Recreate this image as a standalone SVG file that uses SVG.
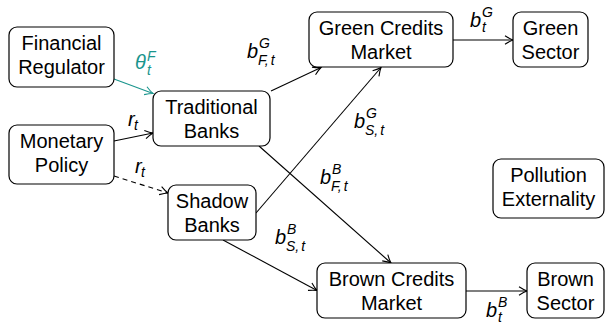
<svg xmlns="http://www.w3.org/2000/svg" width="606" height="323" viewBox="0 0 606 323">
<style>
.box{fill:#fff;stroke:#000;stroke-width:1.2}
.t{font-family:"Liberation Sans",Arial,sans-serif;font-size:20px;text-anchor:middle;fill:#000}
.m{font-family:"Liberation Sans",Arial,sans-serif;font-style:italic;font-size:20px;fill:#000}
.s{font-size:14px}
.e{fill:none;stroke:#000;stroke-width:1.1}
.teal{stroke:#1a958d}
</style>
<defs>
<marker id="ah" viewBox="-9 -5 10 10" refX="0" refY="0" markerWidth="10" markerHeight="10" markerUnits="userSpaceOnUse" orient="auto" overflow="visible">
<path d="M-8,-4.2 Q-3,-1 0,0 Q-3,1 -8,4.2" fill="none" stroke="#000" stroke-width="1.1"/>
</marker>
<marker id="aht" viewBox="-9 -5 10 10" refX="0" refY="0" markerWidth="10" markerHeight="10" markerUnits="userSpaceOnUse" orient="auto" overflow="visible">
<path d="M-8,-4.2 Q-3,-1 0,0 Q-3,1 -8,4.2" fill="none" stroke="#1a958d" stroke-width="1.1"/>
</marker>
</defs>

<g id="connectors">
<line class="e teal" x1="114" y1="79" x2="153" y2="93.5" marker-end="url(#aht)"/>
<line class="e" x1="114" y1="141" x2="153" y2="133" marker-end="url(#ah)"/>
<line class="e" x1="114" y1="176" x2="168" y2="193" stroke-dasharray="5 4" marker-end="url(#ah)"/>
<line class="e" x1="271" y1="91" x2="321" y2="67.5" marker-end="url(#ah)"/>
<line class="e" x1="256" y1="213" x2="381" y2="67.5" marker-end="url(#ah)"/>
<line class="e" x1="259" y1="146" x2="391" y2="263" marker-end="url(#ah)"/>
<line class="e" x1="223" y1="240" x2="317" y2="290.5" marker-end="url(#ah)"/>
<line class="e" x1="453" y1="40" x2="513" y2="40" marker-end="url(#ah)"/>
<line class="e" x1="466" y1="291" x2="527" y2="291" marker-end="url(#ah)"/>

<text class="m" style="fill:#1a958d"><tspan x="135" y="69">θ</tspan><tspan class="s" x="147" y="61">F</tspan><tspan class="s" x="147" y="75">t</tspan></text>
<text class="m"><tspan x="128" y="126">r</tspan><tspan class="s" x="134" y="130">t</tspan></text>
<text class="m"><tspan x="135" y="173">r</tspan><tspan class="s" x="141" y="177">t</tspan></text>
<text class="m"><tspan x="247" y="58">b</tspan><tspan class="s" x="259" y="48">G</tspan><tspan class="s" x="258" y="65">F,</tspan><tspan class="s" dx="2">t</tspan></text>
<text class="m"><tspan x="354" y="128">b</tspan><tspan class="s" x="366" y="118">G</tspan><tspan class="s" x="365" y="135">S,</tspan><tspan class="s" dx="2">t</tspan></text>
<text class="m"><tspan x="320" y="184">b</tspan><tspan class="s" x="332" y="174">B</tspan><tspan class="s" x="331" y="191">F,</tspan><tspan class="s" dx="2">t</tspan></text>
<text class="m"><tspan x="275" y="244">b</tspan><tspan class="s" x="287" y="234">B</tspan><tspan class="s" x="286" y="251">S,</tspan><tspan class="s" dx="2">t</tspan></text>
<text class="m"><tspan x="470" y="27">b</tspan><tspan class="s" x="482" y="17">G</tspan><tspan class="s" x="482" y="32">t</tspan></text>
<text class="m"><tspan x="486" y="317">b</tspan><tspan class="s" x="498" y="307">B</tspan><tspan class="s" x="498" y="322">t</tspan></text>
</g>

<g id="financial-regulator">
<rect class="box" x="9" y="27" width="105" height="60" rx="8"/>
<text class="t"><tspan x="61.5" y="50">Financial</tspan><tspan x="61.5" y="74">Regulator</tspan></text>
</g>
<g id="monetary-policy">
<rect class="box" x="9" y="125" width="105" height="59" rx="8"/>
<text class="t"><tspan x="61.5" y="148">Monetary</tspan><tspan x="61.5" y="172">Policy</tspan></text>
</g>
<g id="traditional-banks">
<rect class="box" x="153" y="91" width="117" height="55" rx="8"/>
<text class="t"><tspan x="211.5" y="113.5">Traditional</tspan><tspan x="211.5" y="137.5">Banks</tspan></text>
</g>
<g id="shadow-banks">
<rect class="box" x="168" y="185" width="88" height="55" rx="8"/>
<text class="t"><tspan x="212" y="207.5">Shadow</tspan><tspan x="212" y="231.5">Banks</tspan></text>
</g>
<g id="green-credits-market">
<rect class="box" x="309" y="12" width="144" height="55" rx="8"/>
<text class="t"><tspan x="381" y="34.5">Green Credits</tspan><tspan x="381" y="58.5">Market</tspan></text>
</g>
<g id="green-sector">
<rect class="box" x="513" y="12" width="75" height="55" rx="8"/>
<text class="t"><tspan x="550.5" y="34.5">Green</tspan><tspan x="550.5" y="58.5">Sector</tspan></text>
</g>
<g id="pollution-externality">
<rect class="box" x="493" y="159" width="111" height="59" rx="8"/>
<text class="t"><tspan x="548.5" y="182">Pollution</tspan><tspan x="548.5" y="206">Externality</tspan></text>
</g>
<g id="brown-credits-market">
<rect class="box" x="317" y="263" width="149" height="55" rx="8"/>
<text class="t"><tspan x="391.5" y="285.5">Brown Credits</tspan><tspan x="391.5" y="309.5">Market</tspan></text>
</g>
<g id="brown-sector">
<rect class="box" x="527" y="263" width="77" height="55" rx="8"/>
<text class="t"><tspan x="565.5" y="285.5">Brown</tspan><tspan x="565.5" y="309.5">Sector</tspan></text>
</g>
</svg>
